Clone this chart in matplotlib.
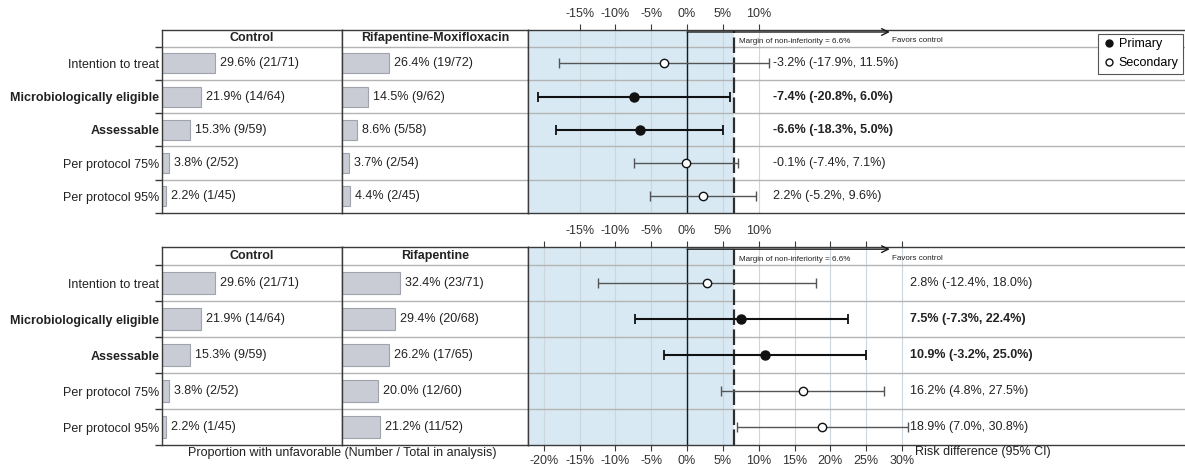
import matplotlib
matplotlib.use('Agg')
import matplotlib.pyplot as plt
from matplotlib.lines import Line2D

plt.rcParams['font.family'] = ['Liberation Sans', 'DejaVu Sans']
plt.rcParams['font.size'] = 9

W, H = 1185, 465

# data
row_labels = ['Intention to treat', 'Microbiologically eligible', 'Assessable',
              'Per protocol 75%', 'Per protocol 95%']
is_primary = [False, True, True, False, False]

control_pct = [29.6, 21.9, 15.3, 3.8, 2.2]
control_counts = ['21/71', '14/64', '9/59', '2/52', '1/45']

rm_pct = [26.4, 14.5, 8.6, 3.7, 4.4]
rm_counts = ['19/72', '9/62', '5/58', '2/54', '2/45']
rm_diff = [-3.2, -7.4, -6.6, -0.1, 2.2]
rm_lo = [-17.9, -20.8, -18.3, -7.4, -5.2]
rm_hi = [11.5, 6.0, 5.0, 7.1, 9.6]

rif_pct = [32.4, 29.4, 26.2, 20.0, 21.2]
rif_counts = ['23/71', '20/68', '17/65', '12/60', '11/52']
rif_diff = [2.8, 7.5, 10.9, 16.2, 18.9]
rif_lo = [-12.4, -7.3, -3.2, 4.8, 7.0]
rif_hi = [18.0, 22.4, 25.0, 27.5, 30.8]

margin = 6.6
ticks_all = [-20, -15, -10, -5, 0, 5, 10, 15, 20, 25, 30]
ticks_short = [-15, -10, -5, 0, 5, 10]

DARK = '#3a3a3a'
TXT = '#222222'
ROWLINE = '#b4b4b4'
BLUE = '#d8e9f3'
BAR = '#c9ccd5'
BAR_EDGE = '#9ea3ac'

fig = plt.figure(figsize=(W / 100, H / 100), dpi=100)


def px_axes(x0, y0, x1, y1):
    return fig.add_axes([x0 / W, 1 - y1 / H, (x1 - x0) / W, (y1 - y0) / H])


def style_spines(ax, right=True):
    for name, sp in ax.spines.items():
        sp.set_color(DARK)
        sp.set_linewidth(1.0)
    ax.spines['right'].set_visible(right)


def bar_column(ax, pct, counts, title, xmax):
    ax.barh(range(5), pct, height=0.6, color=BAR, edgecolor=BAR_EDGE, linewidth=0.8, zorder=2)
    for i, (p, c) in enumerate(zip(pct, counts)):
        ax.annotate(f'{p:.1f}% ({c})', (p, i), xytext=(5, 0), textcoords='offset pixels',
                    va='center', ha='left', color=TXT)
    ax.set_xlim(0, xmax)
    ax.set_ylim(4.5, -1.0)
    for y in [-0.5, 0.5, 1.5, 2.5, 3.5]:
        ax.axhline(y, color=ROWLINE, lw=1.0, zorder=1)
    ax.text(xmax / 2, -0.75, title, ha='center', va='center', fontweight='bold', color=TXT)
    ax.set_xticks([])
    ax.set_yticks([])
    style_spines(ax)


def label_axis(ax):
    ax.set_yticks(range(5), row_labels)
    ax.set_yticks([-0.5, 0.5, 1.5, 2.5, 3.5, 4.5], minor=True)
    ax.tick_params(axis='y', which='major', length=0, pad=2, labelcolor=TXT)
    ax.tick_params(axis='y', which='minor', length=5, color=DARK, width=1)
    for lbl, p in zip(ax.get_yticklabels(), is_primary):
        if p:
            lbl.set_fontweight('bold')


def forest(ax, diff, lo, hi, text_x, grid_ticks):
    xmin, xmax = -22.2, 69.5
    ax.set_xlim(xmin, xmax)
    ax.set_ylim(4.5, -1.0)
    ax.axvspan(xmin, margin, color=BLUE, zorder=0, lw=0)
    ax.vlines(grid_ticks, 4.5, -1.0, color='#cdd6dc', lw=0.8, zorder=0.5)
    ax.hlines([-0.5, 0.5, 1.5, 2.5, 3.5], xmin, xmax, color=ROWLINE, lw=1.0, zorder=1)
    arrow_y = -0.94
    ax.plot([0, 0], [arrow_y, 4.5], color='#1a1a1a', lw=1.0, zorder=2)
    ax.axvline(margin, color='#2e2e2e', lw=1.6, ls=(0, (7, 2)), zorder=2)
    ax.annotate('', xy=(28.3, arrow_y), xytext=(0, arrow_y),
                arrowprops=dict(arrowstyle='->', lw=1.0, color='#1a1a1a',
                                shrinkA=0, shrinkB=0, mutation_scale=12))
    ax.text(7.3, -0.65, 'Margin of non-inferiority = 6.6%', fontsize=5.8, va='center', color=TXT)
    ax.text(28.6, -0.68, 'Favors control', fontsize=5.8, va='center', color=TXT)
    for i, (d, l, h) in enumerate(zip(diff, lo, hi)):
        err = [[d - l], [h - d]]
        if is_primary[i]:
            ax.errorbar(d, i, xerr=err, fmt='o', color='#111111', ecolor='#111111',
                        elinewidth=1.5, capsize=3.5, capthick=1.3, ms=6.5, zorder=3)
            weight = 'bold'
        else:
            ax.errorbar(d, i, xerr=err, fmt='o', color='#111111', ecolor='#555555',
                        mfc='white', mec='#111111', mew=1.0,
                        elinewidth=1.0, capsize=3.5, capthick=0.9, ms=6, zorder=3)
            weight = 'normal'
        ax.text(text_x, i, f'{d:.1f}% ({l:.1f}%, {h:.1f}%)', va='center', ha='left',
                fontweight=weight, color=TXT)
    style_spines(ax, right=False)
    ax.set_yticks([])


def pct_fmt(v):
    return f'{v}%'


tick_kw = dict(direction='out', length=4, width=0.8, color=DARK, labelcolor='#333333', pad=3)

# ---------- top panel ----------
y0, y1 = 30, 213
ax_c = px_axes(162, y0, 342, y1)
bar_column(ax_c, control_pct, control_counts, 'Control', 100)
label_axis(ax_c)
ax_t = px_axes(342, y0, 528, y1)
bar_column(ax_t, rm_pct, rm_counts, 'Rifapentine-Moxifloxacin', 104)
ax_f = px_axes(528, y0, 1185, y1)
forest(ax_f, rm_diff, rm_lo, rm_hi, 12.0, ticks_short)
ax_f.xaxis.set_ticks_position('top')
ax_f.set_xticks(ticks_short, [pct_fmt(t) for t in ticks_short])
ax_f.tick_params(axis='x', top=True, labeltop=True, bottom=False, labelbottom=False, **tick_kw)

# ---------- bottom panel ----------
y0, y1 = 247, 445
ax_c2 = px_axes(162, y0, 342, y1)
bar_column(ax_c2, control_pct, control_counts, 'Control', 100)
label_axis(ax_c2)
ax_t2 = px_axes(342, y0, 528, y1)
bar_column(ax_t2, rif_pct, rif_counts, 'Rifapentine', 104)
ax_f2 = px_axes(528, y0, 1185, y1)
forest(ax_f2, rif_diff, rif_lo, rif_hi, 31.1, ticks_all)
ax_f2.set_xticks(ticks_all, [pct_fmt(t) for t in ticks_all])
ax_f2.tick_params(axis='x', **tick_kw)
sec = ax_f2.secondary_xaxis('top')
sec.set_xticks(ticks_all, [pct_fmt(t) if t in ticks_short else '' for t in ticks_all])
sec.tick_params(axis='x', **tick_kw)
sec.spines['top'].set_visible(False)

fig.text(342 / W, 1 - 453 / H, 'Proportion with unfavorable (Number / Total in analysis)',
         ha='center', va='center', color=TXT)
fig.text(915 / W, 1 - 452 / H, 'Risk difference (95% CI)', ha='left', va='center', color=TXT)

handles = [Line2D([], [], ls='none', marker='o', color='#111111', ms=5),
           Line2D([], [], ls='none', marker='o', mfc='white', mec='#111111', mew=1.0, ms=5)]
leg = fig.legend(handles, ['Primary', 'Secondary'], loc='upper left',
                 bbox_to_anchor=(1098 / W, 1 - 34 / H), fancybox=False, framealpha=1,
                 edgecolor='#555555', borderpad=0.35, handletextpad=0.3, handlelength=1.0,
                 labelspacing=0.55, borderaxespad=0)
leg.get_frame().set_linewidth(0.8)

fig.savefig('out.png', dpi=100)
